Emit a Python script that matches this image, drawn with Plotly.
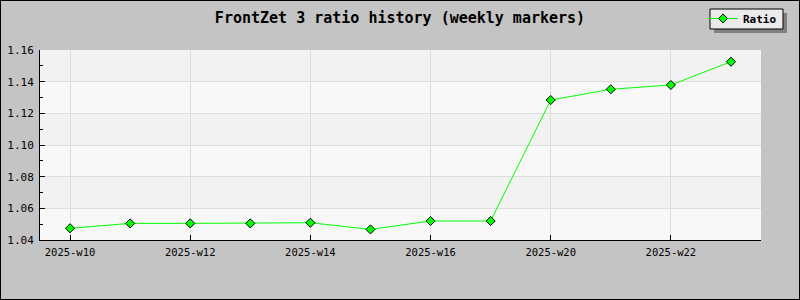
import plotly.graph_objects as go

weeks = ["2025-w10", "2025-w11", "2025-w12", "2025-w13", "2025-w14", "2025-w15",
         "2025-w16", "2025-w18", "2025-w20", "2025-w21", "2025-w22", "2025-w23"]
ratio = [1.0474, 1.0505, 1.0505, 1.0505, 1.0509, 1.0467,
         1.0520, 1.0520, 1.1284, 1.1352, 1.1379, 1.1526]
x_tick_labels = ["2025-w10", "2025-w12", "2025-w14", "2025-w16", "2025-w20", "2025-w22"]
y_ticks = [1.04, 1.06, 1.08, 1.10, 1.12, 1.14, 1.16]

W, H = 800, 300
ML, MR, MT, MB = 40, 39, 50, 60
pw, ph = W - ML - MR, H - MT - MB

def px_x(p):
    return (p - ML) / pw

def px_y(p):
    return (H - MB - p) / ph

fig = go.Figure()
fig.add_trace(go.Scatter(
    x=weeks, y=ratio, name="Ratio", mode="lines+markers",
    line=dict(color="#00ff00", width=1),
    marker=dict(symbol="diamond", size=7, color="#00ff00",
                line=dict(color="#000000", width=1)),
))

shapes = []
# alternating horizontal bands
for i in range(len(y_ticks) - 1):
    shapes.append(dict(type="rect", xref="paper", yref="y", x0=0, x1=1,
                       y0=y_ticks[i], y1=y_ticks[i + 1],
                       fillcolor="#f8f8f8" if i % 2 == 0 else "#f2f2f2",
                       line=dict(width=0), layer="below"))
# legend shadow and box
shapes.append(dict(type="rect", xref="paper", yref="paper",
                   x0=px_x(714), x1=px_x(787), y0=px_y(33), y1=px_y(13),
                   fillcolor="#808080", line=dict(width=0), layer="above"))
shapes.append(dict(type="rect", xref="paper", yref="paper",
                   x0=px_x(710), x1=px_x(783), y0=px_y(29), y1=px_y(9),
                   fillcolor="#ebebeb", line=dict(color="#000000", width=1),
                   layer="above"))
# outer frame
shapes.append(dict(type="rect", xref="paper", yref="paper",
                   x0=px_x(0), x1=px_x(W), y0=px_y(H), y1=px_y(0),
                   line=dict(color="#000000", width=2), fillcolor="rgba(0,0,0,0)"))

fig.update_layout(
    width=W, height=H,
    margin=dict(l=ML, r=MR, t=MT, b=MB, autoexpand=False),
    paper_bgcolor="#c4c4c4", plot_bgcolor="#f8f8f8",
    font=dict(family="DejaVu Sans Mono", size=11, color="#000000"),
    title=dict(text="<b>FrontZet 3 ratio history (weekly markers)</b>",
               x=0.5, xanchor="center", y=1 - 18 / H, yanchor="middle",
               font=dict(family="DejaVu Sans Mono", size=15, color="#000000")),
    showlegend=True,
    legend=dict(x=px_x(703), xanchor="left", y=px_y(4), yanchor="top",
                bgcolor="rgba(0,0,0,0)", borderwidth=0,
                font=dict(family="DejaVu Sans Mono", size=11, color="#000000",
                          weight="bold"),
                itemwidth=30, tracegroupgap=0),
    shapes=shapes,
    xaxis=dict(type="category", categoryorder="array", categoryarray=weeks,
               range=[-0.5, len(weeks) - 0.5],
               tickmode="array", tickvals=x_tick_labels, ticktext=x_tick_labels,
               ticks="inside", ticklen=5, tickcolor="#000000",
               showline=True, linecolor="#000000", linewidth=1,
               showgrid=True, gridcolor="#dddddd", gridwidth=1,
               zeroline=False, tickfont=dict(size=10.5), ticklabelstandoff=2),
    yaxis=dict(range=[y_ticks[0], y_ticks[-1]],
               tickmode="array", tickvals=y_ticks,
               ticktext=[f"{v:.2f}" for v in y_ticks],
               ticks="inside", ticklen=5, tickcolor="#000000",
               minor=dict(ticks="inside", ticklen=3, dtick=0.01, tickcolor="#000000",
                          showgrid=False),
               showline=True, linecolor="#000000", linewidth=1,
               showgrid=True, gridcolor="#dddddd", gridwidth=1,
               zeroline=False, tickfont=dict(size=11), ticklabelstandoff=3),
)

fig.write_html("out.html")
